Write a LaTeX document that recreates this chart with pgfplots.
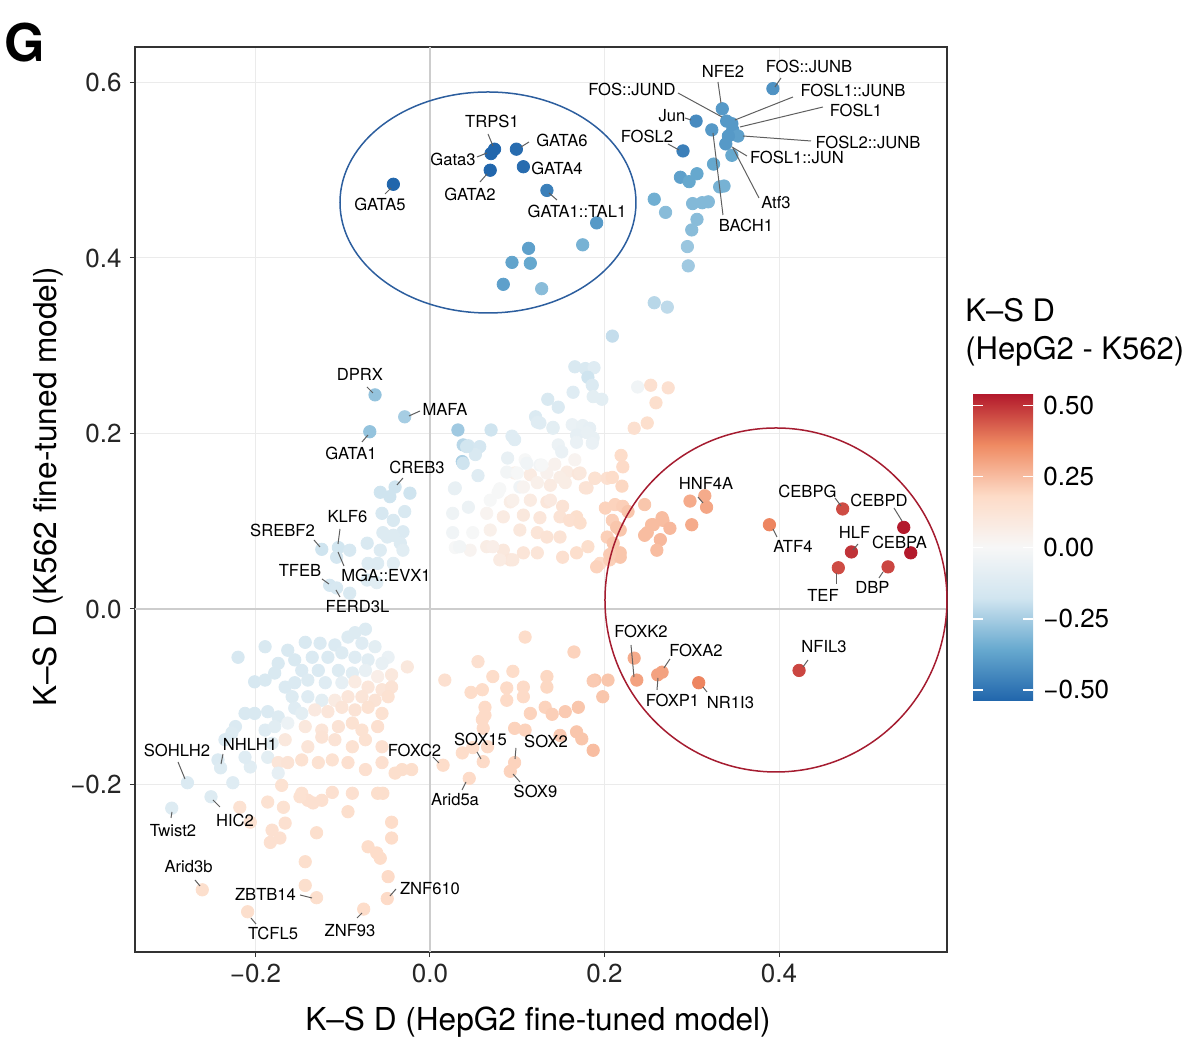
\documentclass[border=0pt]{standalone}
\usepackage{fontspec}
\setmainfont{TeX Gyre Heros}
\usepackage{pgfplots}
\pgfplotsset{compat=1.18}
\usepackage{pgfplotstable}
\definecolor{gridc}{RGB}{235,235,235}
\definecolor{zeroc}{RGB}{205,205,205}
\definecolor{ellblue}{RGB}{44,94,158}
\definecolor{ellred}{RGB}{165,28,48}
\definecolor{leadc}{RGB}{95,95,95}
\pgfplotstableread{
x y c
0.393 0.593 -0.42
0.335 0.570 -0.40
0.305 0.556 -0.44
0.290 0.522 -0.47
0.323 0.546 -0.40
0.340 0.556 -0.40
0.346 0.553 -0.40
0.347 0.546 -0.40
0.353 0.539 -0.38
0.342 0.539 -0.40
0.339 0.530 -0.40
0.346 0.517 -0.36
0.325 0.507 -0.36
0.287 0.492 -0.38
0.306 0.496 -0.36
0.297 0.487 -0.36
0.332 0.481 -0.33
0.337 0.482 -0.33
0.257 0.467 -0.34
0.270 0.452 -0.30
0.301 0.462 -0.31
0.312 0.463 -0.31
0.319 0.464 -0.31
0.306 0.444 -0.30
0.300 0.432 -0.30
0.295 0.413 -0.27
0.296 0.391 -0.26
0.257 0.349 -0.22
0.272 0.344 -0.21
0.209 0.311 -0.20
-0.042 0.484 -0.55
0.074 0.524 -0.55
0.070 0.519 -0.55
0.099 0.524 -0.52
0.069 0.500 -0.55
0.107 0.504 -0.52
0.134 0.477 -0.47
0.191 0.440 -0.40
0.175 0.415 -0.33
0.113 0.411 -0.38
0.094 0.395 -0.37
0.115 0.394 -0.36
0.084 0.370 -0.38
0.128 0.365 -0.30
-0.063 0.244 -0.28
-0.029 0.219 -0.25
-0.069 0.202 -0.28
0.032 0.204 -0.26
0.038 0.187 -0.22
0.037 0.168 -0.24
-0.057 0.133 -0.18
-0.040 0.139 -0.18
-0.023 0.132 -0.18
-0.046 0.128 -0.18
-0.055 0.109 -0.15
-0.042 0.101 -0.14
-0.031 0.088 -0.13
-0.034 0.075 -0.12
-0.124 0.068 -0.18
-0.105 0.070 -0.17
-0.092 0.067 -0.15
-0.072 0.075 -0.14
-0.057 0.067 -0.12
-0.049 0.082 -0.12
-0.060 0.052 -0.12
-0.071 0.052 -0.12
-0.107 0.059 -0.16
-0.115 0.027 -0.16
-0.107 0.024 -0.15
-0.092 0.018 -0.14
-0.072 0.033 -0.12
-0.061 0.030 -0.10
-0.042 0.052 -0.10
-0.031 0.067 -0.10
-0.054 0.087 -0.12
-0.042 0.084 -0.12
-0.029 0.111 -0.14
0.166 0.276 -0.14
0.178 0.274 -0.14
0.188 0.275 -0.11
0.181 0.264 -0.18
0.186 0.255 -0.13
0.164 0.247 -0.11
0.187 0.242 -0.09
0.197 0.239 -0.09
0.135 0.239 -0.14
0.147 0.230 -0.13
0.121 0.219 -0.13
0.123 0.213 -0.11
0.141 0.207 -0.09
0.163 0.210 -0.06
0.175 0.209 -0.07
0.183 0.206 -0.08
0.168 0.198 -0.08
0.180 0.201 -0.07
0.187 0.195 -0.07
0.168 0.190 -0.06
0.186 0.189 -0.06
0.070 0.204 -0.18
0.094 0.197 -0.11
0.097 0.193 -0.11
0.044 0.186 -0.16
0.057 0.185 -0.16
0.052 0.176 -0.14
0.147 0.187 -0.05
0.151 0.179 -0.06
0.089 0.172 -0.07
0.109 0.170 0.00
0.126 0.164 -0.02
0.143 0.165 0.04
0.166 0.170 0.03
0.055 0.152 -0.11
0.097 0.155 0.05
0.115 0.153 0.08
0.134 0.155 0.04
0.157 0.156 0.08
0.170 0.154 0.11
0.189 0.149 0.13
0.028 0.137 -0.06
0.080 0.137 0.00
0.103 0.139 -0.03
0.123 0.144 0.05
0.138 0.141 0.08
0.155 0.144 0.07
0.178 0.138 0.13
0.044 0.116 -0.05
0.069 0.124 0.00
0.092 0.122 0.07
0.115 0.124 0.08
0.134 0.122 0.11
0.152 0.117 0.13
0.026 0.109 -0.04
0.065 0.109 0.03
0.084 0.105 0.08
0.107 0.107 0.10
0.126 0.104 0.11
0.149 0.105 0.13
0.168 0.105 0.16
0.026 0.087 -0.03
0.049 0.087 0.00
0.069 0.090 0.05
0.103 0.090 0.10
0.123 0.087 0.12
0.134 0.082 0.13
0.029 0.070 0.00
0.046 0.067 0.03
0.065 0.071 0.07
0.084 0.067 0.10
0.107 0.064 0.12
0.092 0.056 0.11
0.152 0.059 0.15
0.168 0.064 0.16
0.181 0.071 0.16
0.080 0.056 0.08
0.195 0.052 0.18
0.034 0.071 -0.02
0.078 0.133 0.00
0.095 0.124 0.05
0.088 0.156 -0.02
0.100 0.155 0.00
0.111 0.166 -0.03
0.128 0.164 0.00
0.107 0.139 0.03
0.149 0.150 0.07
0.172 0.155 0.10
0.180 0.138 0.13
0.203 0.149 0.15
0.138 0.124 0.09
0.160 0.101 0.15
0.172 0.098 0.16
0.149 0.082 0.13
0.072 0.071 0.06
0.123 0.064 0.12
0.095 0.056 0.10
0.126 0.212 -0.11
0.141 0.206 -0.09
0.042 0.185 -0.17
0.038 0.166 -0.18
0.029 0.138 -0.07
0.238 0.253 -0.03
0.253 0.255 0.15
0.273 0.252 0.15
0.259 0.235 0.16
0.249 0.212 0.16
0.234 0.206 0.15
0.219 0.175 0.17
0.221 0.162 0.18
0.209 0.150 0.17
0.220 0.140 0.19
0.201 0.115 0.20
0.212 0.119 0.20
0.221 0.117 0.21
0.227 0.111 0.23
0.246 0.119 0.23
0.209 0.101 0.21
0.214 0.093 0.23
0.203 0.082 0.21
0.210 0.075 0.23
0.249 0.087 0.25
0.256 0.096 0.25
0.267 0.101 0.25
0.275 0.092 0.26
0.264 0.079 0.26
0.260 0.067 0.25
0.191 0.048 0.20
0.206 0.056 0.21
0.218 0.064 0.23
0.298 0.123 0.29
0.315 0.129 0.29
0.317 0.116 0.30
0.300 0.096 0.29
0.266 0.104 0.25
0.254 0.096 0.25
0.246 0.084 0.25
0.189 0.149 0.14
0.218 0.059 0.23
0.206 0.062 0.22
0.218 0.090 0.23
0.389 0.096 0.37
0.473 0.114 0.46
0.543 0.093 0.54
0.483 0.065 0.50
0.551 0.064 0.54
0.468 0.047 0.46
0.525 0.048 0.47
0.234 -0.056 0.29
0.237 -0.081 0.31
0.266 -0.072 0.31
0.261 -0.075 0.31
0.308 -0.084 0.37
0.423 -0.070 0.47
0.189 -0.081 0.23
0.204 -0.081 0.23
0.198 -0.100 0.23
0.109 -0.032 0.17
0.165 -0.049 0.20
0.055 -0.060 0.15
0.095 -0.071 0.17
0.072 -0.077 0.17
0.017 -0.081 0.15
0.134 -0.077 0.19
0.134 -0.089 0.19
0.047 -0.095 0.17
0.060 -0.092 0.17
0.088 -0.090 0.18
0.107 -0.089 0.18
0.107 -0.100 0.18
0.088 -0.104 0.18
0.063 -0.112 0.18
0.187 -0.082 0.22
0.132 -0.112 0.20
0.140 -0.120 0.21
0.155 -0.117 0.22
0.170 -0.112 0.23
0.115 -0.119 0.20
0.063 -0.121 0.18
0.060 -0.126 0.18
0.061 -0.136 0.18
0.097 -0.136 0.20
0.109 -0.138 0.20
0.168 -0.140 0.23
0.174 -0.148 0.23
0.187 -0.161 0.25
0.149 -0.144 0.22
0.037 -0.164 0.17
0.049 -0.158 0.17
0.066 -0.157 0.18
0.061 -0.174 0.18
0.097 -0.175 0.20
0.092 -0.185 0.20
0.045 -0.193 0.18
0.015 -0.178 0.17
-0.074 -0.023 -0.12
-0.086 -0.027 -0.12
-0.220 -0.055 -0.15
-0.189 -0.043 -0.14
-0.163 -0.047 -0.14
-0.143 -0.038 -0.14
-0.126 -0.039 -0.13
-0.109 -0.041 -0.13
-0.094 -0.032 -0.12
-0.078 -0.039 -0.11
-0.063 -0.043 -0.09
-0.048 -0.055 -0.06
-0.026 -0.066 0.10
-0.155 -0.058 -0.14
-0.135 -0.055 -0.13
-0.117 -0.055 -0.13
-0.101 -0.050 -0.12
-0.086 -0.055 -0.11
-0.071 -0.058 -0.10
-0.055 -0.062 -0.07
-0.174 -0.062 -0.14
-0.147 -0.070 -0.13
-0.128 -0.070 -0.13
-0.105 -0.070 -0.12
-0.089 -0.073 -0.10
-0.074 -0.070 -0.07
-0.060 -0.077 0.06
-0.044 -0.075 0.10
-0.201 -0.083 -0.15
-0.189 -0.081 -0.14
-0.178 -0.073 -0.14
-0.166 -0.089 -0.13
-0.155 -0.084 -0.13
-0.140 -0.081 -0.12
-0.120 -0.084 -0.11
-0.101 -0.084 -0.08
-0.086 -0.083 0.08
-0.071 -0.089 0.11
-0.055 -0.092 0.12
-0.044 -0.089 0.13
-0.158 -0.100 -0.12
-0.140 -0.100 -0.11
-0.124 -0.104 -0.09
-0.109 -0.104 0.08
-0.094 -0.100 0.11
-0.078 -0.100 0.12
-0.063 -0.104 0.13
-0.048 -0.100 0.14
-0.212 -0.119 -0.14
-0.201 -0.119 -0.14
-0.186 -0.117 -0.13
-0.174 -0.123 -0.12
-0.155 -0.113 -0.11
-0.147 -0.119 -0.09
-0.132 -0.115 0.09
-0.117 -0.117 0.11
-0.101 -0.112 0.12
-0.086 -0.115 0.13
-0.071 -0.112 0.14
-0.055 -0.119 0.14
-0.223 -0.134 -0.13
-0.227 -0.141 -0.12
-0.189 -0.138 -0.11
-0.178 -0.134 -0.10
-0.163 -0.130 -0.05
-0.143 -0.134 0.10
-0.124 -0.138 0.12
-0.105 -0.134 0.13
-0.089 -0.130 0.14
-0.078 -0.138 0.14
-0.060 -0.134 0.15
-0.235 -0.149 -0.13
-0.181 -0.153 -0.09
-0.166 -0.149 0.10
-0.140 -0.157 0.12
-0.124 -0.146 0.13
-0.109 -0.149 0.13
-0.089 -0.157 0.14
-0.074 -0.149 0.14
-0.055 -0.157 0.15
-0.243 -0.172 -0.13
-0.240 -0.181 -0.12
-0.206 -0.180 -0.10
-0.186 -0.169 -0.09
-0.174 -0.175 0.12
-0.163 -0.175 0.13
-0.147 -0.172 0.14
-0.128 -0.175 0.14
-0.112 -0.172 0.14
-0.094 -0.175 0.15
-0.074 -0.183 0.15
-0.055 -0.175 0.15
-0.032 -0.183 0.16
-0.021 -0.183 0.16
-0.040 -0.187 0.16
-0.174 -0.187 -0.08
-0.212 -0.169 -0.11
-0.278 -0.198 -0.13
-0.226 -0.198 -0.11
-0.296 -0.227 -0.12
-0.251 -0.214 -0.12
-0.218 -0.226 0.14
-0.206 -0.243 0.14
-0.186 -0.220 0.14
-0.170 -0.201 0.14
-0.147 -0.210 0.14
-0.140 -0.218 0.15
-0.124 -0.218 0.15
-0.112 -0.209 0.15
-0.089 -0.210 0.15
-0.060 -0.210 0.16
-0.094 -0.231 0.16
-0.181 -0.252 0.15
-0.166 -0.244 0.15
-0.183 -0.266 0.15
-0.130 -0.255 0.16
-0.071 -0.271 0.17
-0.061 -0.278 0.17
-0.057 -0.284 0.17
-0.044 -0.243 0.17
-0.044 -0.261 0.17
-0.143 -0.288 0.16
-0.143 -0.315 0.16
-0.130 -0.329 0.16
-0.048 -0.305 0.18
-0.049 -0.330 0.18
-0.076 -0.342 0.17
-0.209 -0.345 0.16
-0.261 -0.320 0.16
-0.054 -0.210 0.16
-0.168 -0.226 0.14
-0.149 -0.214 0.14
-0.134 -0.221 0.15
-0.172 -0.261 0.15
}\tfdata
\begin{document}
\begin{tikzpicture}
\useasboundingbox (-67.5bp,-46.5bp) rectangle (532.5bp,476bp);
\begin{axis}[
  at={(0,0)}, anchor=south west, scale only axis,
  width=406bp, height=452.5bp,
  xmin=-0.33811, xmax=0.59255, ymin=-0.39088, ymax=0.64046,
  xtick={-0.2,0,0.2,0.4}, xticklabels={−0.2,0.0,0.2,0.4},
  ytick={-0.2,0,0.2,0.4,0.6}, yticklabels={−0.2,0.0,0.2,0.4,0.6},
  grid=major, major grid style={line width=0.5bp, color=gridc},
  tick align=outside, tick pos=left, major tick length=2.5bp,
  tick style={black!80, line width=0.5bp},
  axis line style={black!80, line width=0.6bp},
  ticklabel style={font=\fontsize{13bp}{15bp}\selectfont, text=black!85},
  xticklabel style={anchor=north, inner sep=0pt, yshift=-3.5bp},
  yticklabel style={anchor=east, inner sep=0pt, xshift=-4bp},
  colormap={rdbu}{rgb255=(33,102,172) rgb255=(103,169,207) rgb255=(209,229,240) rgb255=(247,247,247) rgb255=(253,219,199) rgb255=(239,138,98) rgb255=(178,24,43)},
  point meta min=-0.537, point meta max=0.542,
  colorbar, colorbar/width=30bp,
  colorbar style={
    at={(parent axis.south west)}, anchor=south west,
    xshift=410.5bp, yshift=125.75bp,
    scale only axis, width=30bp, height=153.5bp,
    ytick={-0.5,-0.25,0,0.25,0.5},
    yticklabels={−0.50,−0.25,0.00,0.25,0.50},
    ytick pos=both, yticklabel pos=right,
    tick align=inside, major tick length=5bp,
    ytick style={white, line width=0.7bp},
    axis line style={draw=none},
    yticklabel style={font=\fontsize{13bp}{15bp}\selectfont, text=black, anchor=west, inner sep=0pt, xshift=5bp},
  },
]
\draw[zeroc, line width=1.2bp] (axis cs:0,-0.39088) -- (axis cs:0,0.64046);
\draw[zeroc, line width=1.2bp] (axis cs:-0.33811,0) -- (axis cs:0.59255,0);
\addplot[scatter, only marks, mark=*, mark size=3.1bp, point meta=explicit,
  scatter/use mapped color={draw=mapped color, fill=mapped color}]
  table[x=x, y=y, meta=c] {\tfdata};
\end{axis}
\begin{scope}[x=0.5bp, y=-0.5bp, shift={(-67.5bp,476bp)}]
\draw[ellblue, line width=0.75bp] (488,202.5) ellipse [x radius=148, y radius=110.5];
\draw[ellred, line width=0.75bp] (776,600) ellipse [x radius=171, y radius=172];
\begin{scope}[leadc, line width=0.5bp]
\draw (781,78)--(775,87); \draw (718,82)--(721,103); \draw (678,93)--(722,117);
\draw (793,97)--(735,120); \draw (823,107)--(740,127); \draw (685,118)--(691,120);
\draw (668,144)--(679,150); \draw (811,141)--(743,136); \draw (747,156)--(732,147);
\draw (759,198)--(733,148); \draw (723,215)--(713,133);
\draw (488,134)--(493,146); \draw (477,157)--(487,153); \draw (529,142)--(521,147);
\draw (480,182)--(487,174); \draw (557,200)--(549,193); \draw (385,194)--(391,188);
\draw (367,387)--(373,393); \draw (420,411)--(409,416); \draw (362,442)--(368,435);
\draw (403,478)--(397,485); \draw (340,529)--(338,544); \draw (314,540)--(320,547);
\draw (344,566)--(338,552); \draw (322,579)--(329,584); \draw (340,597)--(336,590);
\draw (178,762)--(185,779); \draw (223,754)--(221,764); \draw (171,818)--(172,812);
\draw (213,800)--(220,807); \draw (195,880)--(200,886); \draw (300,895)--(312,898);
\draw (251,918)--(256,924); \draw (357,918)--(362,913); \draw (390,896)--(396,889);
\draw (433,757)--(439,763); \draw (477,752)--(481,759); \draw (516,748)--(515,759);
\draw (513,774)--(520,782); \draw (466,782)--(462,790);
\draw (698,497)--(703,503); \draw (835,498)--(841,506); \draw (894,508)--(902,521);
\draw (773,529)--(777,537); \draw (858,544)--(853,550); \draw (837,573)--(837,584);
\draw (883,572)--(879,578); \draw (631,645)--(634,677); \draw (670,659)--(664,668);
\draw (657,690)--(658,678); \draw (703,687)--(707,692); \draw (808,660)--(803,667);
\end{scope}
\begin{scope}[every node/.style={font=\fontsize{8.3bp}{10bp}\selectfont, anchor=base, inner sep=0pt, text=black}]
\node at (809,73) {FOS::JUNB};
\node at (723,78) {NFE2};
\node at (632,96) {FOS::JUND};
\node at (853,97) {FOSL1::JUNB};
\node at (856,117) {FOSL1};
\node at (672,122) {Jun};
\node at (647,143) {FOSL2};
\node at (868,149) {FOSL2::JUNB};
\node at (797,164) {FOSL1::JUN};
\node at (776,209) {Atf3};
\node at (746,232) {BACH1};
\node at (492,128) {TRPS1};
\node at (453,166) {Gata3};
\node at (562,147) {GATA6};
\node at (557,175) {GATA4};
\node at (470,201) {GATA2};
\node at (577,218) {GATA1::TAL1};
\node at (380,211) {GATA5};
\node at (360,381) {DPRX};
\node at (445,416) {MAFA};
\node at (351,460) {GATA1};
\node at (417,474) {CREB3};
\node at (347.5,523) {KLF6};
\node at (282.5,537) {SREBF2};
\node at (300,577) {TFEB};
\node at (386,582) {MGA::EVX1};
\node at (357.5,613) {FERD3L};
\node at (177,757) {SOHLH2};
\node at (250,751) {NHLH1};
\node at (173,837) {Twist2};
\node at (235,827) {HIC2};
\node at (188.5,873) {Arid3b};
\node at (265.5,901) {ZBTB14};
\node at (273,940) {TCFL5};
\node at (350,937) {ZNF93};
\node at (430,895) {ZNF610};
\node at (414.5,757) {FOXC2};
\node at (480.5,746) {SOX15};
\node at (546,748) {SOX2};
\node at (535.5,798) {SOX9};
\node at (455,806) {Arid5a};
\node at (706,490) {HNF4A};
\node at (807.5,498) {CEBPG};
\node at (879,507) {CEBPD};
\node at (793,553) {ATF4};
\node at (854.5,539) {HLF};
\node at (899.5,549) {CEBPA};
\node at (823,602) {TEF};
\node at (872.5,594) {DBP};
\node at (641,638) {FOXK2};
\node at (696,657) {FOXA2};
\node at (672.5,707) {FOXP1};
\node at (730.5,709) {NR1I3};
\node at (824,653) {NFIL3};
\end{scope}
\node[font=\fontsize{15.8bp}{18bp}\selectfont, anchor=base, inner sep=0pt] at (538,1031) {K–S D (HepG2 fine-tuned model)};
\node[font=\fontsize{15.8bp}{18bp}\selectfont, anchor=base, inner sep=0pt, rotate=90] at (57,486.5) {K–S D (K562 fine-tuned model)};
\node[font=\fontsize{15.5bp}{18bp}\selectfont, anchor=base west, inner sep=0pt] at (965,322) {K–S D};
\node[font=\fontsize{15.5bp}{18bp}\selectfont, anchor=base west, inner sep=0pt] at (965,360) {(HepG2 - K562)};
\node[font=\bfseries\fontsize{26bp}{26bp}\selectfont, anchor=base, inner sep=0pt] at (25,62) {G};
\end{scope}
\end{tikzpicture}
\end{document}
